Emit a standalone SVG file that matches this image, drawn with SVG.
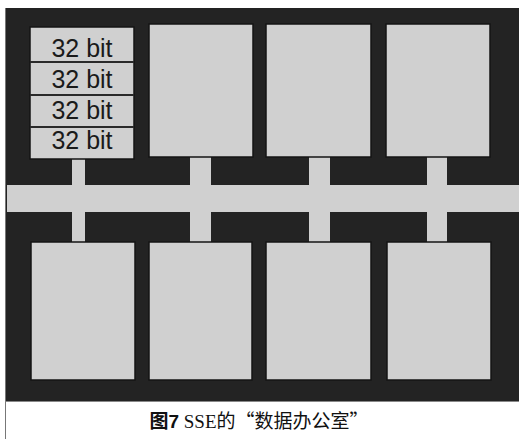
<svg xmlns="http://www.w3.org/2000/svg" width="519" height="439" viewBox="0 0 519 439">
<style>
.bg{fill:#232323}
.box{fill:#d0d0d0;stroke:#151515;stroke-width:1.5}
.wire{fill:#d0d0d0}
.div{stroke:#2a2a2a;stroke-width:2}
.lbl{font-family:"Liberation Sans",Arial,sans-serif;font-size:25px;fill:#1a1a1a;text-anchor:middle}
.cap{font-family:"Liberation Serif","Noto Sans CJK SC",serif;font-size:19px;fill:#111}
.capb{font-family:"Liberation Sans","Noto Sans CJK SC",sans-serif;font-weight:bold}
.cjk{font-family:"Noto Sans CJK SC",sans-serif}
</style>
<rect x="0" y="0" width="519" height="439" fill="#ffffff"/>
<rect class="bg" x="5.5" y="8" width="514" height="393"/>
<line x1="5.5" y1="8" x2="5.5" y2="439" stroke="#777" stroke-width="1"/>
<line x1="5.5" y1="401.5" x2="519" y2="401.5" stroke="#888" stroke-width="1"/>
<g id="connectors">
<rect class="wire" x="7" y="185" width="512" height="27"/>
<rect class="wire" x="72" y="155" width="13" height="32"/>
<rect class="wire" x="190" y="155" width="21" height="32"/>
<rect class="wire" x="309" y="155" width="21" height="32"/>
<rect class="wire" x="427" y="155" width="20" height="32"/>
<rect class="wire" x="72" y="210" width="13" height="34"/>
<rect class="wire" x="190" y="210" width="21" height="34"/>
<rect class="wire" x="309" y="210" width="21" height="34"/>
<rect class="wire" x="427" y="210" width="20" height="34"/>
</g>
<g id="reg-top-1">
<rect class="box" x="30" y="27" width="104" height="132"/>
<line class="div" x1="30" y1="62" x2="134" y2="62"/>
<line class="div" x1="30" y1="95" x2="134" y2="95"/>
<line class="div" x1="30" y1="127" x2="134" y2="127"/>
<text class="lbl" x="82" y="57">32 bit</text>
<text class="lbl" x="82" y="88">32 bit</text>
<text class="lbl" x="82" y="119">32 bit</text>
<text class="lbl" x="82" y="149">32 bit</text>
</g>
<g id="reg-top-2"><rect class="box" x="149" y="24" width="104" height="133"/></g>
<g id="reg-top-3"><rect class="box" x="266" y="24" width="105" height="133"/></g>
<g id="reg-top-4"><rect class="box" x="386" y="24" width="104" height="133"/></g>
<g id="reg-bot-1"><rect class="box" x="31" y="242" width="104" height="138"/></g>
<g id="reg-bot-2"><rect class="box" x="149" y="242" width="103" height="138"/></g>
<g id="reg-bot-3"><rect class="box" x="266" y="242" width="105" height="138"/></g>
<g id="reg-bot-4"><rect class="box" x="387" y="242" width="104" height="138"/></g>
<text class="cap" x="259" y="428" text-anchor="middle"><tspan class="capb">图7</tspan> SSE的<tspan class="cjk">“</tspan>数据办公室<tspan class="cjk">”</tspan></text>
</svg>
